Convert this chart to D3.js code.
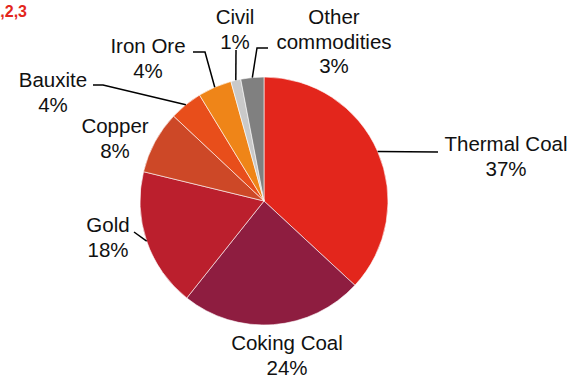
<!DOCTYPE html>
<html>
<head>
<meta charset="utf-8">
<script src="https://cdn.jsdelivr.net/npm/d3@7"></script>
<style>
  body { margin: 0; background: #fff; }
  text { font-family: "Liberation Sans", Arial, sans-serif; }
</style>
</head>
<body>
<script>
//chart data (shares, labels show rounded values)
var categories = ["Thermal Coal", "Coking Coal", "Gold", "Copper", "Bauxite", "Iron Ore", "Civil", "Other commodities"];
var shares = [36.9, 23.8, 18.1, 8.2, 4.3, 4.4, 1.3, 3.0];
var shareLabels = ["37%", "24%", "18%", "8%", "4%", "4%", "1%", "3%"];
var colors = ["#e3261c", "#8e1d40", "#bb1f2d", "#cd4827", "#e84e1b", "#ef8518", "#c9c9c9", "#808080"];

//label layout: name lines, centre x, first baseline, leader path after the slice edge
var labelLayout = [
  {lines: ["Thermal Coal"], x: 506, y: 151, leader: [[438, 152]]},
  {lines: ["Coking Coal"], x: 287, y: 350, leader: null},
  {lines: ["Gold"], x: 108, y: 232, leader: [[134, 232]]},
  {lines: ["Copper"], x: 115, y: 133, leader: null},
  {lines: ["Bauxite"], x: 53, y: 87, leader: [[103, 85], [93, 85]]},
  {lines: ["Iron Ore"], x: 148, y: 53, leader: [[205, 52], [193, 52]]},
  {lines: ["Civil"], x: 235, y: 24, leader: [[236, 50]]},
  {lines: ["Other", "commodities"], x: 334, y: 24, leader: [[257, 48], [268, 48]]}
];

var width = 582,
    height = 377,
    cx = 264,
    cy = 201,
    radius = 124;

var svg = d3.select("body")
    .append("svg")
    .attr("width", width)
    .attr("height", height);

//cut-off footnote marks at top left
svg.append("text")
    .attr("x", 27)
    .attr("y", 17)
    .attr("text-anchor", "end")
    .attr("fill", "#e3261c")
    .attr("font-weight", "bold")
    .attr("font-size", 16)
    .text("1,2,3");

var pie = d3.pie().sort(null).startAngle(0).endAngle(2 * Math.PI);
var arcs = pie(shares);

var arc = d3.arc().innerRadius(0).outerRadius(radius);
var edge = d3.arc().innerRadius(radius).outerRadius(radius);

var g = svg.append("g")
    .attr("transform", "translate(" + cx + "," + cy + ")");

g.selectAll(".slice")
    .data(arcs)
    .enter()
    .append("path")
    .attr("class", "slice")
    .attr("d", arc)
    .attr("fill", function(d, i){ return colors[i]; })
    .attr("stroke", "#fff")
    .attr("stroke-width", 0.6);

//leader lines
var line = d3.line();
arcs.forEach(function(d, i){
  var lab = labelLayout[i];
  if (!lab.leader) return;
  var c = edge.centroid(d);
  var pts = [[c[0] + cx, c[1] + cy]].concat(lab.leader);
  svg.append("path")
      .attr("d", line(pts))
      .attr("fill", "none")
      .attr("stroke", "#000")
      .attr("stroke-width", 1.5);
});

//labels
labelLayout.forEach(function(lab, i){
  var t = svg.append("text")
      .attr("text-anchor", "middle")
      .attr("font-size", 20.5)
      .attr("fill", "#111");
  lab.lines.concat([shareLabels[i]]).forEach(function(s, j){
    t.append("tspan")
        .attr("x", lab.x)
        .attr("y", lab.y + j * 24.5)
        .text(s);
  });
});
</script>
</body>
</html>
